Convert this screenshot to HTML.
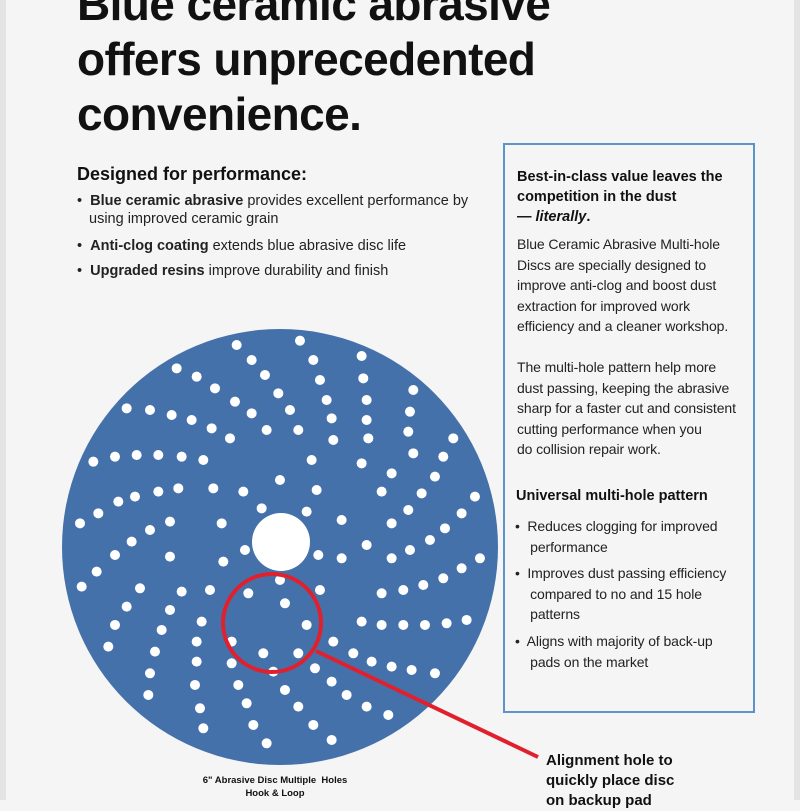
<!DOCTYPE html>
<html><head><meta charset="utf-8"><style>
body{margin:0;width:800px;height:800px;overflow:hidden;background:#f5f5f5;position:relative;font-family:"Liberation Sans",Arial,sans-serif;color:#111}
.a{position:absolute;white-space:nowrap}
.t{font-size:46px;font-weight:bold;letter-spacing:-0.6px;left:77px;line-height:57px}
.lb{font-size:14.5px;color:#222}
.rb{font-size:14px;color:#222;letter-spacing:-0.1px}
</style></head><body>
<div style="position:absolute;left:0;top:0;width:6px;height:800px;background:#e4e4e4"></div>
<div style="position:absolute;left:794px;top:0;width:6px;height:800px;background:#e4e4e4"></div>
<div class="a t" style="top:-24px">Blue ceramic abrasive</div>
<div class="a t" style="top:31px">offers unprecedented</div>
<div class="a t" style="top:86px">convenience.</div>

<div class="a" style="left:77px;top:164px;font-size:18px;font-weight:bold">Designed for performance:</div>
<div class="a lb" style="left:77px;top:193px">•&nbsp; <b>Blue ceramic abrasive</b> provides excellent performance by</div>
<div class="a lb" style="left:89px;top:211px">using improved ceramic grain</div>
<div class="a lb" style="left:77px;top:238px">•&nbsp; <b>Anti-clog coating</b> extends blue abrasive disc life</div>
<div class="a lb" style="left:77px;top:263px">•&nbsp; <b>Upgraded resins</b> improve durability and finish</div>

<div style="position:absolute;left:503px;top:143px;width:252px;height:570px;border:2px solid #5b94c8;box-sizing:border-box"></div>
<div class="a" style="left:517px;top:167px;font-size:14.5px;font-weight:bold;line-height:20px">Best-in-class value leaves the<br>competition in the dust<br>— <i>literally</i>.</div>
<div class="a rb" style="left:517px;top:234px;line-height:20.5px">Blue Ceramic Abrasive Multi-hole<br>Discs are specially designed to<br>improve anti-clog and boost dust<br>extraction for improved work<br>efficiency and a cleaner workshop.<br><br>The multi-hole pattern help more<br>dust passing, keeping the abrasive<br>sharp for a faster cut and consistent<br>cutting performance when you<br>do collision repair work.</div>
<div class="a" style="left:516px;top:488px;font-size:14.5px;font-weight:bold">Universal multi-hole pattern</div>
<div class="a rb" style="left:515px;top:516px;line-height:20.5px">•&nbsp; Reduces clogging for improved<br>&nbsp;&nbsp;&nbsp; performance</div>
<div class="a rb" style="left:515px;top:563px;line-height:20.5px">•&nbsp; Improves dust passing efficiency<br>&nbsp;&nbsp;&nbsp; compared to no and 15 hole<br>&nbsp;&nbsp;&nbsp; patterns</div>
<div class="a rb" style="left:515px;top:631px;line-height:20.5px">•&nbsp; Aligns with majority of back-up<br>&nbsp;&nbsp;&nbsp; pads on the market</div>

<svg width="800" height="800" style="position:absolute;left:0;top:0">
<circle cx="280" cy="547" r="218" fill="#4571aa"/>
<circle cx="281" cy="542" r="29" fill="#fff"/>
<g fill="#fff" transform="translate(60,320) scale(0.3333)">
<circle cx="530" cy="75" r="15"/><circle cx="720" cy="62" r="15"/><circle cx="905" cy="108" r="15"/><circle cx="575" cy="120" r="15"/><circle cx="760" cy="120" r="15"/><circle cx="350" cy="145" r="15"/><circle cx="410" cy="170" r="15"/><circle cx="615" cy="165" r="15"/><circle cx="780" cy="180" r="15"/><circle cx="910" cy="175" r="15"/><circle cx="465" cy="205" r="15"/><circle cx="655" cy="220" r="15"/><circle cx="800" cy="240" r="15"/><circle cx="920" cy="240" r="15"/><circle cx="1060" cy="210" r="15"/><circle cx="200" cy="265" r="15"/><circle cx="270" cy="270" r="15"/><circle cx="335" cy="285" r="15"/><circle cx="395" cy="300" r="15"/><circle cx="525" cy="245" r="15"/><circle cx="575" cy="280" r="15"/><circle cx="690" cy="270" r="15"/><circle cx="815" cy="295" r="15"/><circle cx="920" cy="300" r="15"/><circle cx="1050" cy="275" r="15"/><circle cx="455" cy="325" r="15"/><circle cx="510" cy="355" r="15"/><circle cx="620" cy="330" r="15"/><circle cx="715" cy="330" r="15"/><circle cx="820" cy="360" r="15"/><circle cx="925" cy="355" r="15"/><circle cx="1045" cy="335" r="15"/><circle cx="1180" cy="355" r="15"/><circle cx="100" cy="425" r="15"/><circle cx="165" cy="410" r="15"/><circle cx="230" cy="405" r="15"/><circle cx="295" cy="405" r="15"/><circle cx="365" cy="410" r="15"/><circle cx="430" cy="420" r="15"/><circle cx="755" cy="420" r="15"/><circle cx="905" cy="430" r="15"/><circle cx="1060" cy="400" r="15"/><circle cx="1150" cy="410" r="15"/><circle cx="995" cy="460" r="15"/><circle cx="1125" cy="470" r="15"/><circle cx="660" cy="480" r="15"/><circle cx="1245" cy="530" r="15"/><circle cx="225" cy="530" r="15"/><circle cx="295" cy="515" r="15"/><circle cx="355" cy="505" r="15"/><circle cx="460" cy="505" r="15"/><circle cx="550" cy="515" r="15"/><circle cx="770" cy="510" r="15"/><circle cx="965" cy="515" r="15"/><circle cx="1085" cy="520" r="15"/><circle cx="175" cy="545" r="15"/><circle cx="115" cy="580" r="15"/><circle cx="605" cy="565" r="15"/><circle cx="740" cy="575" r="15"/><circle cx="1045" cy="570" r="15"/><circle cx="1205" cy="580" r="15"/><circle cx="60" cy="610" r="15"/><circle cx="330" cy="605" r="15"/><circle cx="270" cy="630" r="15"/><circle cx="485" cy="610" r="15"/><circle cx="845" cy="600" r="15"/><circle cx="995" cy="610" r="15"/><circle cx="1155" cy="625" r="15"/><circle cx="215" cy="665" r="15"/><circle cx="555" cy="690" r="15"/><circle cx="775" cy="705" r="15"/><circle cx="845" cy="715" r="15"/><circle cx="920" cy="675" r="15"/><circle cx="1050" cy="690" r="15"/><circle cx="1110" cy="660" r="15"/><circle cx="165" cy="705" r="15"/><circle cx="330" cy="710" r="15"/><circle cx="490" cy="725" r="15"/><circle cx="995" cy="715" r="15"/><circle cx="1260" cy="715" r="15"/><circle cx="110" cy="755" r="15"/><circle cx="1205" cy="745" r="15"/><circle cx="660" cy="780" r="15"/><circle cx="1150" cy="775" r="15"/><circle cx="65" cy="800" r="15"/><circle cx="240" cy="805" r="15"/><circle cx="365" cy="815" r="15"/><circle cx="450" cy="810" r="15"/><circle cx="565" cy="820" r="15"/><circle cx="780" cy="810" r="15"/><circle cx="965" cy="820" r="15"/><circle cx="1030" cy="810" r="15"/><circle cx="1090" cy="795" r="15"/><circle cx="675" cy="850" r="15"/><circle cx="200" cy="860" r="15"/><circle cx="330" cy="870" r="15"/><circle cx="425" cy="905" r="15"/><circle cx="740" cy="915" r="15"/><circle cx="905" cy="905" r="15"/><circle cx="965" cy="915" r="15"/><circle cx="1030" cy="915" r="15"/><circle cx="1095" cy="915" r="15"/><circle cx="1160" cy="910" r="15"/><circle cx="1220" cy="900" r="15"/><circle cx="165" cy="915" r="15"/><circle cx="305" cy="930" r="15"/><circle cx="145" cy="980" r="15"/><circle cx="410" cy="965" r="15"/><circle cx="515" cy="965" r="15"/><circle cx="820" cy="965" r="15"/><circle cx="285" cy="995" r="15"/><circle cx="610" cy="1000" r="15"/><circle cx="715" cy="1000" r="15"/><circle cx="880" cy="1000" r="15"/><circle cx="410" cy="1025" r="15"/><circle cx="515" cy="1030" r="15"/><circle cx="640" cy="1055" r="15"/><circle cx="765" cy="1045" r="15"/><circle cx="935" cy="1025" r="15"/><circle cx="995" cy="1040" r="15"/><circle cx="1055" cy="1050" r="15"/><circle cx="1125" cy="1060" r="15"/><circle cx="270" cy="1060" r="15"/><circle cx="405" cy="1095" r="15"/><circle cx="535" cy="1095" r="15"/><circle cx="815" cy="1085" r="15"/><circle cx="675" cy="1110" r="15"/><circle cx="860" cy="1125" r="15"/><circle cx="265" cy="1125" r="15"/><circle cx="560" cy="1150" r="15"/><circle cx="715" cy="1160" r="15"/><circle cx="920" cy="1160" r="15"/><circle cx="985" cy="1185" r="15"/><circle cx="420" cy="1165" r="15"/><circle cx="580" cy="1215" r="15"/><circle cx="760" cy="1215" r="15"/><circle cx="430" cy="1225" r="15"/><circle cx="620" cy="1270" r="15"/><circle cx="815" cy="1260" r="15"/>
</g>
<circle cx="272" cy="623" r="49" fill="none" stroke="#e0202c" stroke-width="4"/>
<line x1="316" y1="651" x2="538" y2="757" stroke="#e0202c" stroke-width="4"/>
</svg>

<div class="a" style="left:175px;top:774px;width:200px;text-align:center;font-size:9.5px;font-weight:bold;line-height:13px">6" Abrasive Disc Multiple&nbsp; Holes<br>Hook &amp; Loop</div>
<div class="a" style="left:546px;top:751px;font-size:15px;font-weight:bold;line-height:20px">Alignment hole to<br>quickly place disc<br>on backup pad</div>
</body></html>
